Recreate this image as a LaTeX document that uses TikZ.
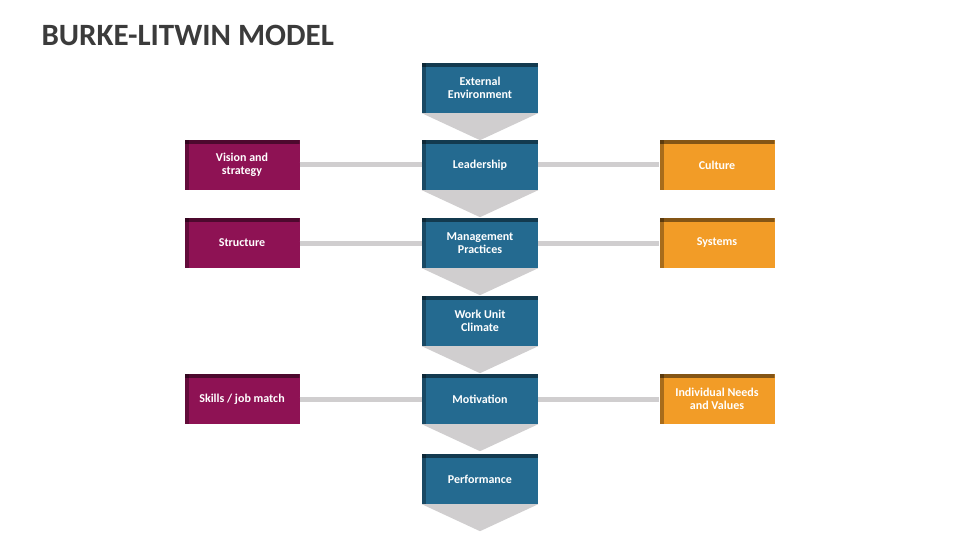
\documentclass[tikz,border=0pt]{standalone}
\usepackage{fontspec}
\setmainfont{Carlito}
\usetikzlibrary{positioning,calc}
\definecolor{coreblue}{HTML}{246A90}
\definecolor{plum}{HTML}{8E1254}
\definecolor{amber}{HTML}{F29C27}
\definecolor{linkgray}{HTML}{D0CECF}
\definecolor{titlegray}{HTML}{3B3B3B}
\tikzset{
    stage/.style={
        rectangle, fill=coreblue, text=white, font=\bfseries\fontsize{12}{13}\selectfont,
        minimum width=116pt, minimum height=50pt, align=center, inner sep=2pt,
        path picture={
            \fill[black, opacity=0.45] (path picture bounding box.north west) rectangle ([yshift=-4pt]path picture bounding box.north east);
            \fill[black, opacity=0.3] (path picture bounding box.north west) rectangle ([xshift=4pt]path picture bounding box.south west);
        }
    },
    sidebox/.style={
        stage, minimum width=115pt
    },
    leftbox/.style={sidebox, fill=plum},
    rightbox/.style={sidebox, fill=amber},
    link/.style={draw=linkgray, line width=5pt},
    chevron/.style={fill=linkgray}
}
\newcommand{\chev}[1]{\fill[chevron] (#1.south west) -- (#1.south east) -- ($(#1.south)+(0,-27pt)$) -- cycle;}
\begin{document}
\begin{tikzpicture}[x=1pt,y=-1pt]
    \useasboundingbox (0,0) rectangle (960,540);
    \node[anchor=west, text=titlegray, font=\bfseries\fontsize{31}{34}\selectfont] (title) at (38,35) {BURKE-LITWIN MODEL};

    % centre column
    \node[stage] (ext) at (480,88) {External\\Environment};
    \node[stage] (lead) at (480,165) {Leadership};
    \node[stage] (mgmt) at (480,243) {Management\\Practices};
    \node[stage] (climate) at (480,321) {Work Unit\\Climate};
    \node[stage] (motiv) at (480,399) {Motivation};
    \node[stage] (perf) at (480,479) {Performance};

    % side boxes
    \node[leftbox] (vision) at (242,165) {Vision and\\strategy};
    \node[leftbox] (struct) at (242,243) {Structure};
    \node[leftbox] (skills) at (242,399) {Skills / job match};
    \node[rightbox] (culture) at (717,165) {Culture};
    \node[rightbox] (systems) at (717,243) {Systems};
    \node[rightbox] (needs) at (717,399) {Individual Needs\\and Values};

    \begin{scope}[on background layer/.style={}]
    \draw[link] (vision) -- (lead);
    \draw[link] (lead) -- (culture);
    \draw[link] (struct) -- (mgmt);
    \draw[link] (mgmt) -- (systems);
    \draw[link] (skills) -- (motiv);
    \draw[link] (motiv) -- (needs);
    \end{scope}

    \foreach \n in {ext,lead,mgmt,climate,motiv,perf}{\chev{\n}}
\end{tikzpicture}
\end{document}
